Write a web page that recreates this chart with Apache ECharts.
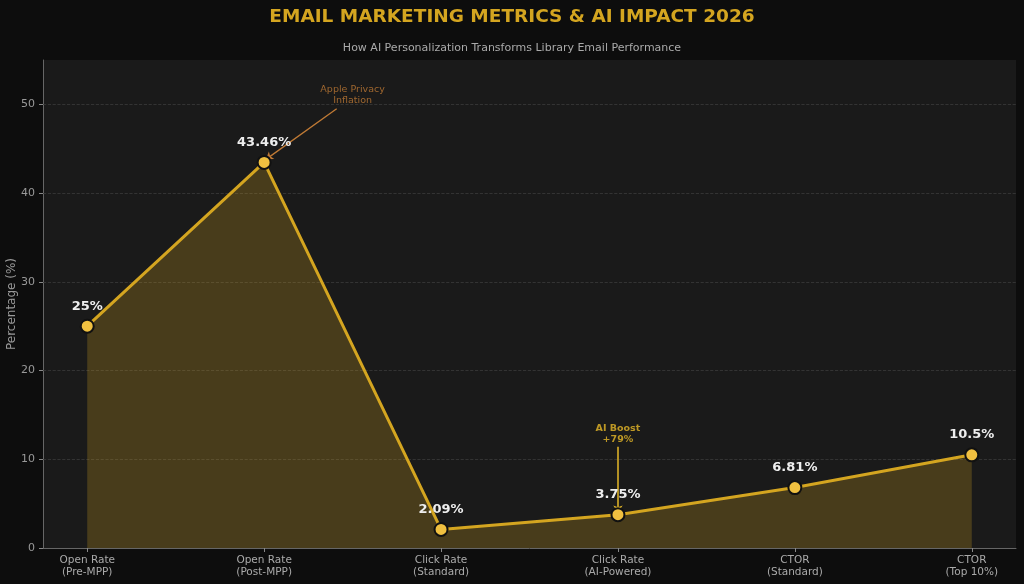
<!DOCTYPE html>
<html>
<head>
<meta charset="utf-8">
<script src="https://cdn.jsdelivr.net/npm/echarts@6/dist/echarts.min.js"></script>
<style>
  html, body { margin: 0; padding: 0; background: #0d0d0d; }
  #chart { width: 1024px; height: 584px; }
</style>
</head>
<body>
<div id="chart"></div>
<script>
const categories = ['Open Rate\n(Pre-MPP)', 'Open Rate\n(Post-MPP)', 'Click Rate\n(Standard)', 'Click Rate\n(AI-Powered)', 'CTOR\n(Standard)', 'CTOR\n(Top 10%)']
const values = [25, 43.46, 2.09, 3.75, 6.81, 10.5]
const valueLabels = ['25%', '43.46%', '2.09%', '3.75%', '6.81%', '10.5%']
const yTicks = [0, 10, 20, 30, 40, 50]

// annotation positions in data space [x index, y value]
const appleText = [1.5, 51]
const appleArrow = [[1.41, 49.5], [1.01, 43.8]]
const boostText = [3, 12.9]
const boostArrow = [[3, 11.4], [3, 4.0]]

const gold = '#d4a520'
const font = 'DejaVu Sans'

const chart = echarts.init(document.getElementById('chart'))

const option = {
  backgroundColor: '#0d0d0d',
  animation: false,
  textStyle: { fontFamily: font },
  title: [
    {
      text: 'EMAIL MARKETING METRICS & AI IMPACT 2026',
      left: 'center',
      top: 3,
      textStyle: { color: gold, fontSize: 18.5, fontWeight: 'bold', fontFamily: font }
    },
    {
      text: 'How AI Personalization Transforms Library Email Performance',
      left: 'center',
      top: 38,
      textStyle: { color: '#aaaaaa', fontSize: 11, fontWeight: 'normal', fontFamily: font }
    }
  ],
  // y axis title, placed by hand so it sits where the reference has it
  graphic: [
    {
      type: 'text',
      x: 12,
      y: 304,
      rotation: Math.PI / 2,
      style: {
        text: 'Percentage (%)',
        fill: '#999',
        font: '12px "DejaVu Sans"',
        align: 'center',
        verticalAlign: 'middle'
      }
    }
  ],
  grid: {
    left: 43, right: 8, top: 60, bottom: 36,
    outerBoundsMode: 'none',
    containLabel: false,
    show: true,
    backgroundColor: '#1a1a1a',
    borderWidth: 0
  },
  xAxis: {
    type: 'value',
    min: -0.25,
    max: 5.25,
    interval: 0.25,
    axisLine: { show: true, onZero: false, lineStyle: { color: '#666' } },
    axisTick: {
      show: true,
      customValues: [0, 1, 2, 3, 4, 5],
      length: 4,
      lineStyle: { color: '#888' }
    },
    axisLabel: {
      customValues: [0, 1, 2, 3, 4, 5],
      color: '#aaaaaa',
      fontSize: 10.5,
      lineHeight: 12,
      margin: 6,
      formatter: v => categories[Math.round(v)] || ''
    },
    splitLine: { show: false }
  },
  yAxis: {
    type: 'value',
    min: 0,
    max: 55,
    interval: 5,
    axisLine: { show: true, onZero: false, lineStyle: { color: '#666' } },
    axisTick: {
      show: true,
      customValues: yTicks,
      length: 4,
      lineStyle: { color: '#888' }
    },
    axisLabel: {
      customValues: yTicks,
      color: '#999',
      fontSize: 11,
      formatter: v => (v % 10 === 0 ? String(v) : '')
    },
    splitLine: { show: false }
  },
  series: [
    {
      // dashed horizontal gridlines at each tick
      type: 'line',
      silent: true,
      data: [],
      markLine: {
        silent: true,
        symbol: 'none',
        label: { show: false },
        lineStyle: { color: '#3a3a3a', type: 'dashed', width: 0.8 },
        data: yTicks.slice(1).map(v => ({ yAxis: v }))
      }
    },
    {
      name: 'Metrics',
      type: 'line',
      data: values.map((v, i) => [i, v]),
      symbol: 'circle',
      symbolSize: 13,
      z: 5,
      lineStyle: { color: gold, width: 3 },
      itemStyle: { color: '#f0c040', borderColor: '#111', borderWidth: 2 },
      areaStyle: { color: 'rgba(212, 165, 32, 0.36)' },
      label: {
        show: true,
        position: 'top',
        distance: 6,
        color: '#eeeeee',
        fontSize: 13,
        fontWeight: 'bold',
        formatter: p => valueLabels[p.dataIndex]
      },
      markLine: {
        silent: true,
        label: { show: false },
        symbol: ['none', 'arrow'],
        symbolSize: 7,
        data: [
          [
            { coord: appleArrow[0], lineStyle: { color: '#c07a35', width: 1.3, type: 'solid' } },
            { coord: appleArrow[1] }
          ],
          [
            { coord: boostArrow[0], lineStyle: { color: '#e6b828', width: 1.5, type: 'solid' } },
            { coord: boostArrow[1] }
          ]
        ]
      }
    },
    {
      name: 'Notes',
      type: 'scatter',
      symbolSize: 0,
      silent: true,
      data: [
        {
          value: appleText,
          label: {
            show: true, position: 'inside', formatter: 'Apple Privacy\nInflation',
            color: '#c07a35', fontSize: 9.5, lineHeight: 11
          }
        },
        {
          value: boostText,
          label: {
            show: true, position: 'inside', formatter: 'AI Boost\n+79%',
            color: '#e6b828', fontSize: 9.5, fontWeight: 'bold', lineHeight: 11
          }
        }
      ]
    }
  ]
}

chart.setOption(option)
</script>
</body>
</html>
